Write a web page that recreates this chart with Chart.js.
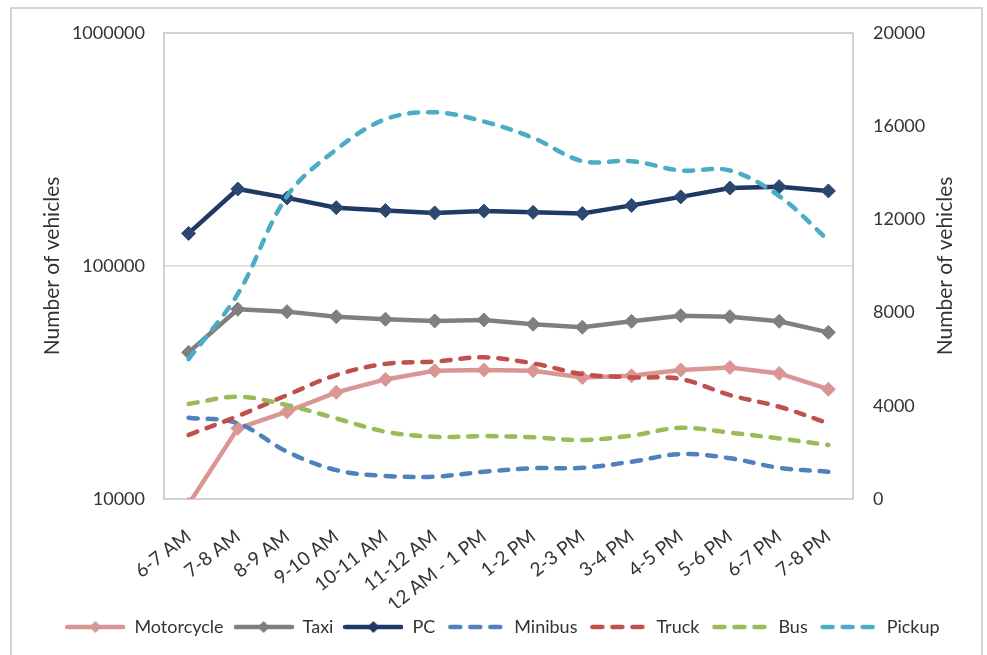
<!DOCTYPE html>
<html>
<head>
<meta charset="utf-8">
<script src="https://cdn.jsdelivr.net/npm/chart.js@4.4.1/dist/chart.umd.min.js"></script>
<style>
  html, body { margin: 0; padding: 0; background: #fff; }
  #wrap { position: relative; width: 987px; height: 655px; }
  #frame { position: absolute; left: 10px; top: 7px; width: 973px; height: 660px; border: 2px solid #d4d4d4; box-sizing: border-box; }
  #chart { position: absolute; left: 0; top: 0; }
</style>
</head>
<body>
<div id="wrap">
  <div id="frame"></div>
  <canvas id="chart" width="987" height="655"></canvas>
</div>
<script>
  // Data
  const hours = ["6-7 AM", "7-8 AM", "8-9 AM", "9-10 AM", "10-11 AM", "11-12 AM", "12 AM - 1 PM",
    "1-2 PM", "2-3 PM", "3-4 PM", "4-5 PM", "5-6 PM", "6-7 PM", "7-8 PM"];

  // left (log) axis
  const motorcycle = [9500, 20100, 23700, 28700, 32600, 35500, 35800, 35500, 33200, 33800, 35800, 36700, 34600, 29600];
  const taxi = [42600, 65200, 63700, 60600, 59100, 58100, 58700, 56200, 54600, 57900, 61200, 60600, 57900, 51900];
  const pc = [138000, 214000, 196000, 178000, 173000, 169000, 172000, 170000, 168000, 182000, 198000, 216000, 219000, 210000];

  // right (linear) axis
  const minibus = [3490, 3250, 2030, 1240, 990, 960, 1170, 1320, 1340, 1600, 1930, 1750, 1340, 1170];
  const truck = [2750, 3560, 4460, 5320, 5800, 5900, 6080, 5820, 5360, 5220, 5150, 4460, 3960, 3250];
  const bus = [4080, 4390, 4030, 3460, 2890, 2670, 2700, 2650, 2530, 2720, 3060, 2850, 2600, 2320];
  const pickup = [6000, 8800, 13000, 15000, 16300, 16600, 16200, 15500, 14500, 14500, 14100, 14100, 13000, 11100];

  const leftTicks = [10000, 100000, 1000000];
  const rightMax = 20000;
  const rightStep = 4000;

  const axisTitle = "Number of vehicles";
  const FONT = "Lato";
  const TEXT = "#333333";

  // legend swatches: line with diamond, or three dashes
  function swatch(color, dashed) {
    const c = document.createElement("canvas");
    c.width = 60;
    c.height = 16;
    const g = c.getContext("2d");
    g.strokeStyle = color;
    g.lineCap = "round";
    g.lineWidth = 4.5;
    g.beginPath();
    if (dashed) {
      g.setLineDash([10, 10]);
      g.moveTo(5, 8);
      g.lineTo(55, 8);
    } else {
      g.moveTo(2, 8);
      g.lineTo(58, 8);
    }
    g.stroke();
    if (!dashed) {
      g.fillStyle = color;
      g.beginPath();
      g.moveTo(30 - 6, 8);
      g.lineTo(30, 2);
      g.lineTo(30 + 6, 8);
      g.lineTo(30, 14);
      g.closePath();
      g.fill();
    }
    return c;
  }

  function solidSet(label, data, color, pointColor, order) {
    return {
      label: label,
      data: data,
      yAxisID: "y",
      borderColor: color,
      backgroundColor: color,
      borderWidth: 4.5,
      tension: 0,
      pointStyle: "rectRot",
      pointRadius: 7,
      pointBorderWidth: 1,
      pointBackgroundColor: pointColor,
      pointBorderColor: pointColor,
      order: order,
      _swatch: swatch(color, false),
    };
  }

  function dashedSet(label, data, color, order) {
    return {
      label: label,
      data: data,
      yAxisID: "y1",
      borderColor: color,
      backgroundColor: color,
      borderWidth: 4.5,
      borderDash: [9, 10],
      borderCapStyle: "round",
      tension: 0.35,
      pointRadius: 0,
      order: order,
      _swatch: swatch(color, true),
    };
  }

  // plot frame around the chart area
  const framePlugin = {
    id: "plotFrame",
    beforeDatasetsDraw(chart) {
      const { ctx, chartArea: a } = chart;
      ctx.save();
      ctx.strokeStyle = "#c3c3c3";
      ctx.lineWidth = 1.5;
      ctx.strokeRect(a.left, a.top, a.right - a.left, a.bottom - a.top);
      ctx.restore();
    },
  };

  // right axis title reads bottom-to-top like the left one
  const rightTitlePlugin = {
    id: "rightTitle",
    afterDraw(chart) {
      const { ctx, chartArea: a } = chart;
      ctx.save();
      ctx.translate(945, (a.top + a.bottom) / 2);
      ctx.rotate(-Math.PI / 2);
      ctx.font = "21px " + FONT;
      ctx.fillStyle = TEXT;
      ctx.textAlign = "center";
      ctx.textBaseline = "middle";
      ctx.fillText(axisTitle, 0, 0);
      ctx.restore();
    },
  };

  const ctx = document.getElementById("chart").getContext("2d");
  const chart = new Chart(ctx, {
    type: "line",
    data: {
      labels: hours,
      datasets: [
        solidSet("Motorcycle", motorcycle, "#D99694", "#D99694", 7),
        solidSet("Taxi", taxi, "#7F7F7F", "#7F7F7F", 6),
        solidSet("PC", pc, "#1F3864", "#2C4870", 5),
        dashedSet("Minibus", minibus, "#4F81BD", 4),
        dashedSet("Truck", truck, "#C0504D", 3),
        dashedSet("Bus", bus, "#9BBB59", 2),
        dashedSet("Pickup", pickup, "#4BACC6", 1),
      ],
    },
    options: {
      responsive: false,
      animation: false,
      layout: { padding: { top: 33, left: 18, right: 0, bottom: 9 } },
      plugins: {
        tooltip: { enabled: false },
        legend: {
          position: "bottom",
          labels: {
            usePointStyle: true,
            pointStyleWidth: 60,
            padding: 10,
            color: TEXT,
            font: { family: FONT, size: 18 },
            generateLabels(chart) {
              return chart.data.datasets.map((ds, i) => ({
                text: ds.label,
                pointStyle: ds._swatch,
                fillStyle: ds.borderColor,
                strokeStyle: ds.borderColor,
                lineWidth: 0,
                fontColor: TEXT,
                hidden: false,
                datasetIndex: i,
              }));
            },
          },
        },
      },
      scales: {
        x: {
          type: "category",
          offset: true,
          grid: { display: false, drawTicks: false },
          border: { display: false },
          ticks: {
            color: TEXT,
            font: { family: FONT, size: 19 },
            minRotation: 38,
            maxRotation: 38,
            autoSkip: false,
            padding: 26,
          },
          afterFit(scale) { scale.height = 109; },
        },
        y: {
          type: "logarithmic",
          position: "left",
          min: leftTicks[0],
          max: leftTicks[leftTicks.length - 1],
          afterBuildTicks(scale) {
            scale.ticks = leftTicks.map((v) => ({ value: v }));
          },
          ticks: {
            color: TEXT,
            font: { family: FONT, size: 18 },
            padding: 19,
            callback: (v) => String(v),
          },
          grid: {
            drawTicks: false,
            lineWidth: 1.5,
            color: (c) => (c.tick && c.tick.value === leftTicks[1] ? "#d9d9d9" : "rgba(0,0,0,0)"),
          },
          border: { display: false },
          title: {
            display: true,
            text: axisTitle,
            color: TEXT,
            font: { family: FONT, size: 21 },
            padding: { top: 22, bottom: 0 },
          },
          afterFit(scale) { scale.width = 146; },
        },
        y1: {
          type: "linear",
          position: "right",
          min: 0,
          max: rightMax,
          ticks: {
            stepSize: rightStep,
            color: TEXT,
            font: { family: FONT, size: 18 },
            padding: 20,
            callback: (v) => String(v),
          },
          grid: { display: false, drawTicks: false },
          border: { display: false },
          afterFit(scale) { scale.width = 134; },
        },
      },
    },
    plugins: [framePlugin, rightTitlePlugin],
  });
</script>
</body>
</html>
